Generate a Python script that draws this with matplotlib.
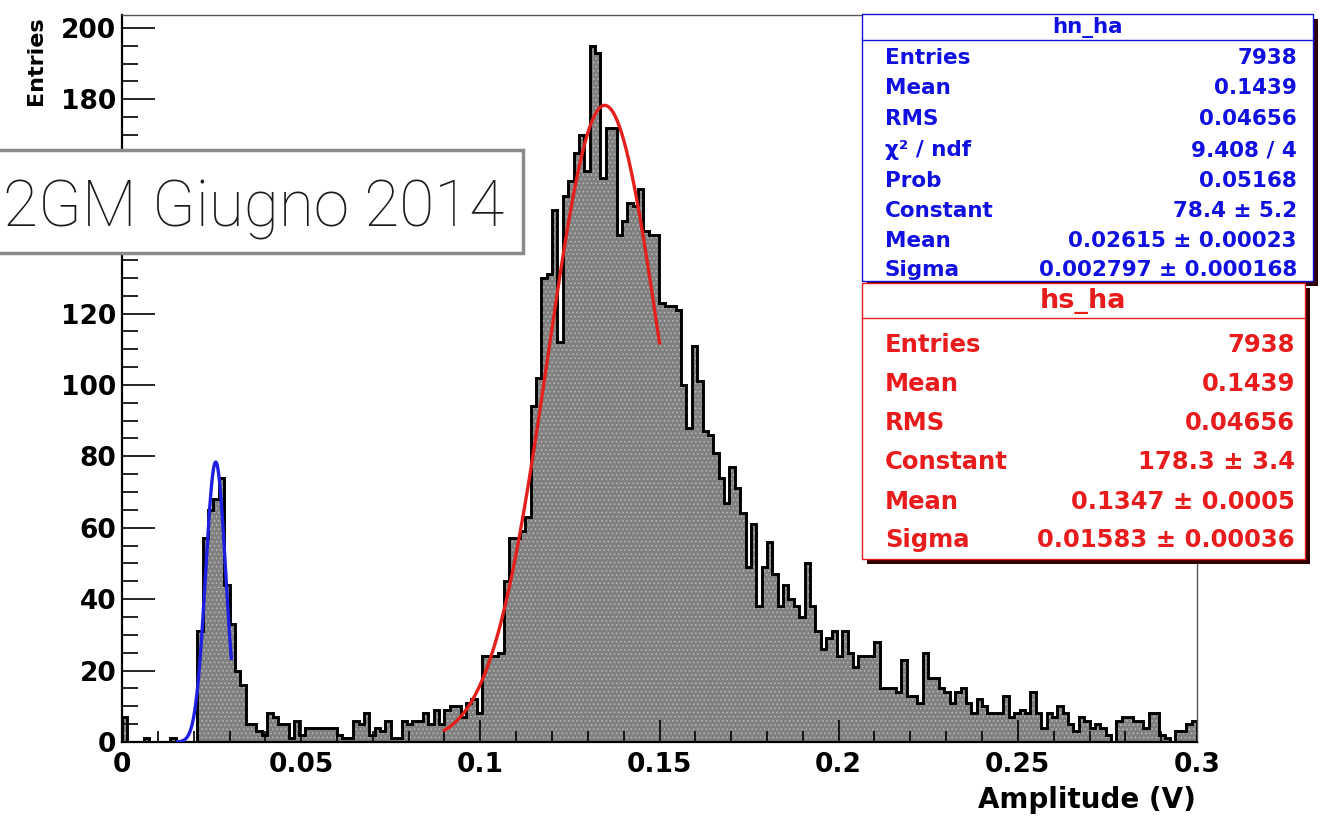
import numpy as np
import matplotlib
matplotlib.use('Agg')
import matplotlib.pyplot as plt
from matplotlib.patches import Rectangle

# Histogram: 200 bins from 0 to 0.3 V, counts
n_bins = 200
x_min, x_max = 0.0, 0.3
counts = [
    7, 0, 0, 0, 1, 0, 0, 0, 0, 1,
    0, 0, 0, 0, 31, 57, 65, 68, 74, 44,
    33, 20, 16, 5, 5, 3, 2, 8, 7, 5,
    5, 1, 6, 2, 4, 4, 4, 4, 4, 4,
    2, 1, 1, 6, 5, 8, 2, 4, 3, 6,
    1, 1, 6, 5, 6, 6, 8, 5, 9, 5,
    9, 10, 10, 7, 11, 12, 8, 24, 24, 24,
    25, 45, 57, 57, 59, 63, 94, 102, 130, 131,
    149, 112, 153, 157, 165, 170, 160, 195, 193, 158,
    172, 172, 142, 146, 151, 150, 155, 143, 142, 142,
    123, 122, 122, 121, 100, 88, 111, 101, 87, 86,
    81, 74, 67, 77, 71, 64, 49, 61, 38, 49,
    56, 47, 38, 44, 40, 38, 35, 50, 38, 31,
    26, 29, 31, 24, 31, 25, 21, 24, 24, 24,
    28, 15, 15, 15, 14, 23, 13, 13, 11, 25,
    18, 18, 15, 14, 11, 14, 15, 11, 8, 12,
    10, 8, 8, 8, 13, 7, 8, 9, 8, 14,
    8, 4, 8, 7, 10, 8, 5, 3, 7, 6,
    4, 5, 4, 2, 0, 6, 7, 7, 6, 6,
    4, 8, 8, 2, 1, 0, 3, 3, 5, 6,
]

# Gaussian fits (constant, mean, sigma, fit range)
noise_fit = (78.4, 0.02615, 0.002797, 0.0155, 0.0305)
signal_fit = (178.3, 0.1347, 0.01583, 0.09, 0.15)

x_tick_labels = ['0', '0.05', '0.1', '0.15', '0.2', '0.25', '0.3']
# 140 and 160 sit under the overlay label box
y_tick_labels = ['0', '20', '40', '60', '80', '100', '120', '', '', '180', '200']

# Stat boxes
blue_title = 'hn_ha'
blue_labels = ['Entries', 'Mean', 'RMS', 'χ² / ndf', 'Prob', 'Constant', 'Mean', 'Sigma']
blue_values = ['7938', '0.1439', '0.04656', '9.408 / 4', '0.05168',
               '78.4 ± 5.2', '0.02615 ± 0.00023', '0.002797 ± 0.000168']
red_title = 'hs_ha'
red_labels = ['Entries', 'Mean', 'RMS', 'Constant', 'Mean', 'Sigma']
red_values = ['7938', '0.1439', '0.04656', '178.3 ± 3.4', '0.1347 ± 0.0005', '0.01583 ± 0.00036']

W, H = 1334, 817
plt.rcParams['font.family'] = ['DejaVu Sans']
plt.rcParams['font.weight'] = 'bold'
plt.rcParams['hatch.linewidth'] = 0.6

fig = plt.figure(figsize=(W / 100, H / 100), dpi=100)


def fx(px):
    return px / W


def fy(py):
    return 1 - py / H


ax = fig.add_axes([fx(122), fy(742), fx(1197) - fx(122), fy(15) - fy(742)])

edges = np.linspace(x_min, x_max, n_bins + 1)
ax.stairs(counts, edges, fill=True, facecolor='#808080', edgecolor='#bababa',
          hatch='....', linewidth=0, zorder=1)
ax.stairs(counts, edges, color='black', linewidth=2.1, zorder=2)


def gauss_curve(c, m, s, lo, hi):
    xx = np.linspace(lo, hi, 300)
    return xx, c * np.exp(-0.5 * ((xx - m) / s) ** 2)


xb, yb = gauss_curve(*noise_fit)
ax.plot(xb, yb, color='#1f1fe0', lw=2.4, zorder=3)
xr, yr = gauss_curve(*signal_fit)
ax.plot(xr, yr, color='#e3201b', lw=2.4, zorder=3)

ax.set_xlim(x_min, x_max)
ax.set_ylim(0, 203.6)
ax.set_xticks(np.arange(0, 0.301, 0.05))
ax.set_xticklabels(x_tick_labels)
ax.set_xticks(np.arange(0, 0.301, 0.01), minor=True)
ax.set_yticks(np.arange(0, 201, 20))
ax.set_yticklabels(y_tick_labels)
ax.set_yticks(np.arange(0, 201, 5), minor=True)
ax.tick_params(axis='y', which='major', direction='in', length=23.5, width=1.2,
               labelsize=19, pad=4)
ax.tick_params(axis='y', which='minor', direction='in', length=11.5, width=1.2)
ax.tick_params(axis='x', which='major', direction='in', length=15.8, width=1.2,
               labelsize=19, pad=7)
ax.tick_params(axis='x', which='minor', direction='in', length=7.9, width=1.2)
for lab in ax.get_xticklabels() + ax.get_yticklabels():
    lab.set_fontweight('bold')
for side in ['left', 'bottom']:
    ax.spines[side].set_linewidth(1.6)
for side in ['top', 'right']:
    ax.spines[side].set_linewidth(1.0)
    ax.spines[side].set_color('#555555')

fig.text(fx(36), fy(16), 'Entries', rotation=90, ha='center', va='top',
         fontsize=16, fontweight='bold')
fig.text(fx(1196), fy(800), 'Amplitude (V)', ha='right', va='center',
         fontsize=20, fontweight='bold')


def stat_box(x0, y0, x1, y1, sep, color, title, labels, values, rows, fs, tfs, vx):
    shadow = Rectangle((fx(x0 + 5), fy(y1 + 5)), fx(x1) - fx(x0), fy(y0) - fy(y1),
                       transform=fig.transFigure, facecolor='#300000', edgecolor='none', zorder=4)
    box = Rectangle((fx(x0), fy(y1)), fx(x1) - fx(x0), fy(y0) - fy(y1),
                    transform=fig.transFigure, facecolor='white', edgecolor=color,
                    linewidth=1.0, zorder=5)
    fig.add_artist(shadow)
    fig.add_artist(box)
    fig.add_artist(plt.Line2D([fx(x0), fx(x1)], [fy(sep), fy(sep)], transform=fig.transFigure,
                              color=color, lw=1.0, zorder=6))
    fig.text(fx((x0 + x1) / 2), fy((y0 + sep) / 2), title, ha='center', va='center',
             color=color, fontsize=tfs, fontweight='bold', zorder=7)
    for lab, val, r in zip(labels, values, rows):
        fig.text(fx(x0 + 23), fy(r), lab, ha='left', va='center', color=color,
                 fontsize=fs, fontweight='bold', zorder=7)
        fig.text(fx(vx), fy(r), val, ha='right', va='center', color=color,
                 fontsize=fs, fontweight='bold', zorder=7)


stat_box(862, 14, 1313, 281, 40, '#1010e0', blue_title, blue_labels, blue_values,
         [58, 88, 119, 150, 181, 211, 241, 270], 15.5, 15.5, 1297)
stat_box(862, 283, 1305, 559, 318, '#e81c1c', red_title, red_labels, red_values,
         [345, 384, 423, 462, 502, 540], 17.5, 19.5, 1295)

# overlay label box
lbl = Rectangle((fx(-20), fy(253)), fx(523) - fx(-20), fy(150) - fy(253),
                transform=fig.transFigure, facecolor='white', edgecolor='#8a8a8a',
                linewidth=2.5, zorder=8)
fig.add_artist(lbl)
fig.text(fx(3), fy(227), '2GM Giugno 2014', ha='left', va='baseline', fontsize=46,
         family=['Roboto', 'DejaVu Sans'], fontweight='light', color='#1a1a1a', zorder=9)

plt.savefig('out.png', dpi=100)
